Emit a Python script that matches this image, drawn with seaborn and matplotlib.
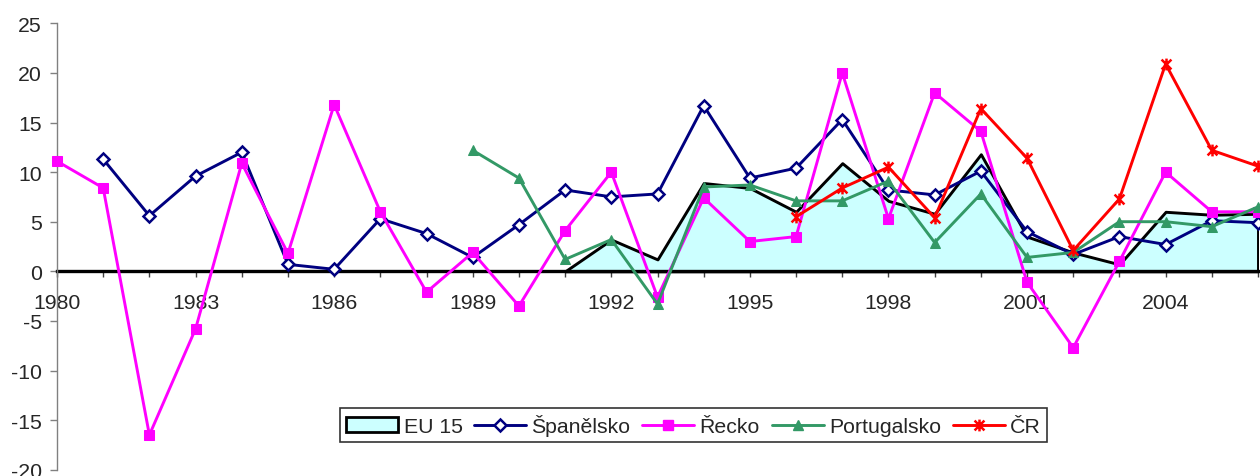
import numpy as np
import pandas as pd
import matplotlib
matplotlib.use("Agg")
import matplotlib.pyplot as plt
import seaborn as sns
from matplotlib.path import Path
from matplotlib.lines import Line2D
from matplotlib.patches import Patch

nan = np.nan

# data (annual % values)
years = list(range(1980, 2007))
eu15 = [nan] * 11 + [0.0, 3.2, 1.2, 8.9, 8.4, 6.0, 10.9, 7.1, 5.8, 11.8,
                     3.5, 1.9, 0.7, 6.0, 5.7, 5.8]
spanelsko = [nan, 11.3, 5.6, 9.6, 12.0, 0.7, 0.2, 5.3, 3.8, 1.4, 4.7, 8.2, 7.5,
             7.8, 16.7, 9.4, 10.4, 15.3, 8.2, 7.7, 10.1, 4.0, 1.7, 3.5, 2.7,
             5.1, 4.9]
recko = [11.1, 8.4, -16.5, -5.8, 10.9, 1.8, 16.8, 6.0, -2.1, 1.9, -3.5, 4.1,
         10.0, -2.6, 7.4, 3.0, 3.5, 20.0, 5.3, 18.0, 14.1, -1.1, -7.7, 1.0,
         10.0, 6.0, 6.0]
portugalsko = [nan] * 9 + [12.2, 9.4, 1.2, 3.2, -3.3, 8.5, 8.7, 7.1, 7.1, 9.1,
                           2.9, 7.8, 1.4, 1.9, 5.0, 5.0, 4.5, 6.5]
cr = [nan] * 16 + [5.5, 8.4, 10.5, 5.4, 16.4, 11.4, 2.1, 7.3, 20.9, 12.2, 10.6]

labels = ["EU 15", "Španělsko", "Řecko", "Portugalsko", "ČR"]

df = pd.DataFrame({"year": years, "EU 15": eu15, "Španělsko": spanelsko,
                   "Řecko": recko, "Portugalsko": portugalsko, "ČR": cr})

# Excel-like asterisk marker: X plus vertical bar
star = Path([(-1, -1), (1, 1), (-1, 1), (1, -1), (0, -1.2), (0, 1.2)],
            [Path.MOVETO, Path.LINETO, Path.MOVETO, Path.LINETO,
             Path.MOVETO, Path.LINETO])

styles = {
    "Španělsko": dict(color="#000080", marker="D", markersize=6.3,
                      markerfacecolor="white", markeredgecolor="#000080",
                      markeredgewidth=1.8),
    "Řecko": dict(color="#FF00FF", marker="s", markersize=6.8,
                  markerfacecolor="#FF00FF", markeredgecolor="#FF00FF"),
    "Portugalsko": dict(color="#339966", marker="^", markersize=7.8,
                        markerfacecolor="#339966", markeredgecolor="#339966"),
    "ČR": dict(color="#FF0000", marker=star, markersize=8.5,
               markerfacecolor="#FF0000", markeredgecolor="#FF0000",
               markeredgewidth=1.8),
}

sns.set_style("white")
plt.rcParams["font.family"] = ["Liberation Sans", "DejaVu Sans"]
plt.rcParams["axes.unicode_minus"] = False
fs = 15.3
lw = 2.1

fig = plt.figure(figsize=(12.6, 4.77), dpi=100)
ax = fig.add_axes([57 / 1260, 1 - 470.7 / 477, (1258 - 57) / 1260,
                   (470.7 - 24.3) / 477])

# EU 15 as an area
eu = df[["year", "EU 15"]].dropna()
ax.fill_between(eu["year"], 0, eu["EU 15"], facecolor="#CCFFFF",
                edgecolor="black", linewidth=lw, zorder=1)

for name, st in styles.items():
    sub = df[["year", name]].dropna()
    sns.lineplot(data=sub, x="year", y=name, ax=ax, linewidth=lw,
                 clip_on=False, zorder=3, **st)

ax.set_xlim(1980, 2006)
ax.set_ylim(-20, 25)
ax.set_yticks(range(-20, 30, 5))
ax.set_xticks(years)
ax.set_xticklabels([str(y) if (y - 1980) % 3 == 0 else "" for y in years])
ax.set_xlabel("")
ax.set_ylabel("")

for s in ["top", "right"]:
    ax.spines[s].set_visible(False)
ax.spines["left"].set_color("#808080")
ax.spines["left"].set_linewidth(1.0)
ax.spines["bottom"].set_position(("data", 0))
ax.spines["bottom"].set_color("black")
ax.spines["bottom"].set_linewidth(2.4)
ax.spines["bottom"].set_zorder(2)

ax.tick_params(axis="y", direction="out", length=5, width=1, color="#808080",
               labelsize=fs, pad=6, left=True)
ax.tick_params(axis="x", direction="out", length=4, width=1, color="#404040",
               labelsize=fs, pad=11.5, bottom=True)
ax.grid(False)

handles = [Patch(facecolor="#CCFFFF", edgecolor="black", linewidth=2)]
for name, st in styles.items():
    handles.append(Line2D([], [], linewidth=lw, **st))

leg = fig.legend(handles, labels, loc="center",
                 bbox_to_anchor=(693.5 / 1260, 1 - 426 / 477), ncol=5,
                 fontsize=fs, frameon=True, fancybox=False, handlelength=2.45,
                 handletextpad=0.25, columnspacing=0.55, borderpad=0.3,
                 borderaxespad=0)
leg.get_frame().set_edgecolor("black")
leg.get_frame().set_linewidth(1.2)

fig.savefig("out.png", dpi=100)
